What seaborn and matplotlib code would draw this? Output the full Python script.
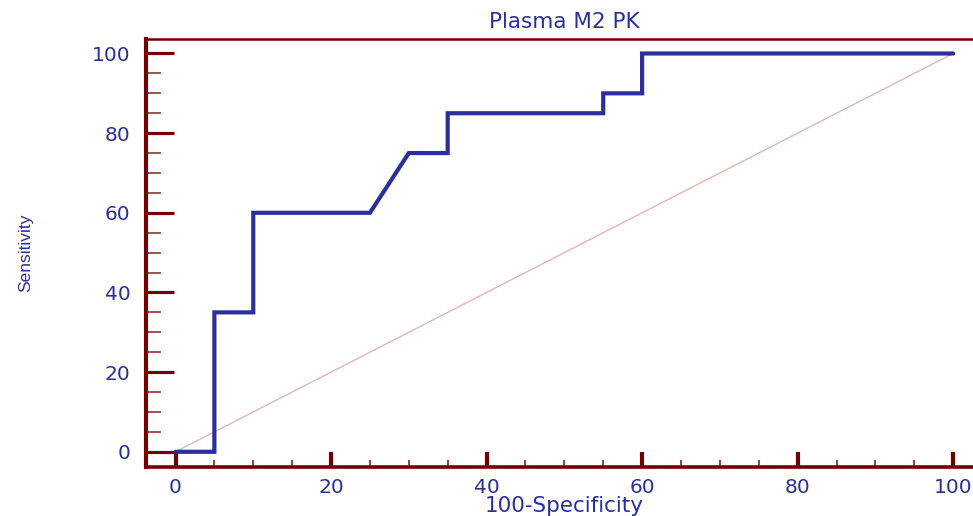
import matplotlib
matplotlib.use("Agg")
import matplotlib.pyplot as plt
from matplotlib.ticker import MultipleLocator
import numpy as np
import pandas as pd
import seaborn as sns

# ROC curve points for plasma M2 PK
fpr = [0, 5, 5, 10, 10, 25, 30, 35, 35, 55, 55, 60, 60, 100]
tpr = [0, 0, 35, 35, 60, 60, 75, 75, 85, 85, 90, 90, 100, 100]
ref_x = [0, 100]
ref_y = [0, 100]

title = "Plasma M2 PK"
xlabel = "100-Specificity"
ylabel = "Sensitivity"
major_ticks = [0, 20, 40, 60, 80, 100]

sns.set_style("white")
plt.rcParams["font.family"] = ["DejaVu Sans"]

maroon = "#730000"
minor_col = "#9A3030"
blue = "#2B2F9E"
pink = "#E3B4B4"

fig = plt.figure(figsize=(9.73, 5.16), dpi=100)
ax = fig.add_axes([0.150, 0.0959, 0.860, 0.829])

roc = pd.DataFrame({"fpr": fpr, "tpr": tpr})
diag = pd.DataFrame({"x": ref_x, "y": ref_y})

sns.lineplot(data=diag, x="x", y="y", ax=ax, color=pink, linewidth=1.0,
             sort=False, estimator=None)
sns.lineplot(data=roc, x="fpr", y="tpr", ax=ax, color=blue, linewidth=3.0,
             sort=False, estimator=None, solid_joinstyle="miter")

ax.set_xlim(-3.8, 103.8)
ax.set_ylim(-3.7, 103.7)
ax.set_xticks(major_ticks)
ax.set_yticks(major_ticks)
ax.xaxis.set_minor_locator(MultipleLocator(5))
ax.yaxis.set_minor_locator(MultipleLocator(5))

for side, lw in [("left", 3.0), ("bottom", 2.6), ("top", 1.8), ("right", 3.0)]:
    ax.spines[side].set_visible(True)
    ax.spines[side].set_color(maroon)
    ax.spines[side].set_linewidth(lw)

ax.tick_params(axis="y", which="major", direction="in", length=20.5, width=2.3,
               color=maroon, pad=11, labelsize=14.5, labelcolor=blue, left=True)
ax.tick_params(axis="y", which="minor", direction="in", length=10.5, width=1.2,
               color=minor_col, left=True)
ax.tick_params(axis="x", which="major", direction="in", length=10.5, width=3.0,
               color=maroon, pad=8, labelsize=14.5, labelcolor=blue, bottom=True)
ax.tick_params(axis="x", which="minor", direction="in", length=5, width=1.3,
               color=minor_col, bottom=True)

ax.set_xlabel(xlabel, fontsize=15.5, color=blue)
ax.xaxis.set_label_coords(0.5, -0.070)
ax.set_ylabel(ylabel, fontsize=12.5, color=blue, family=["Liberation Sans"])
ax.yaxis.set_label_coords(-0.135, 0.5)
ax.set_title(title, fontsize=15.5, color=blue, pad=7.5)
ax.grid(False)

fig.savefig("out.png", dpi=100, facecolor="white")
